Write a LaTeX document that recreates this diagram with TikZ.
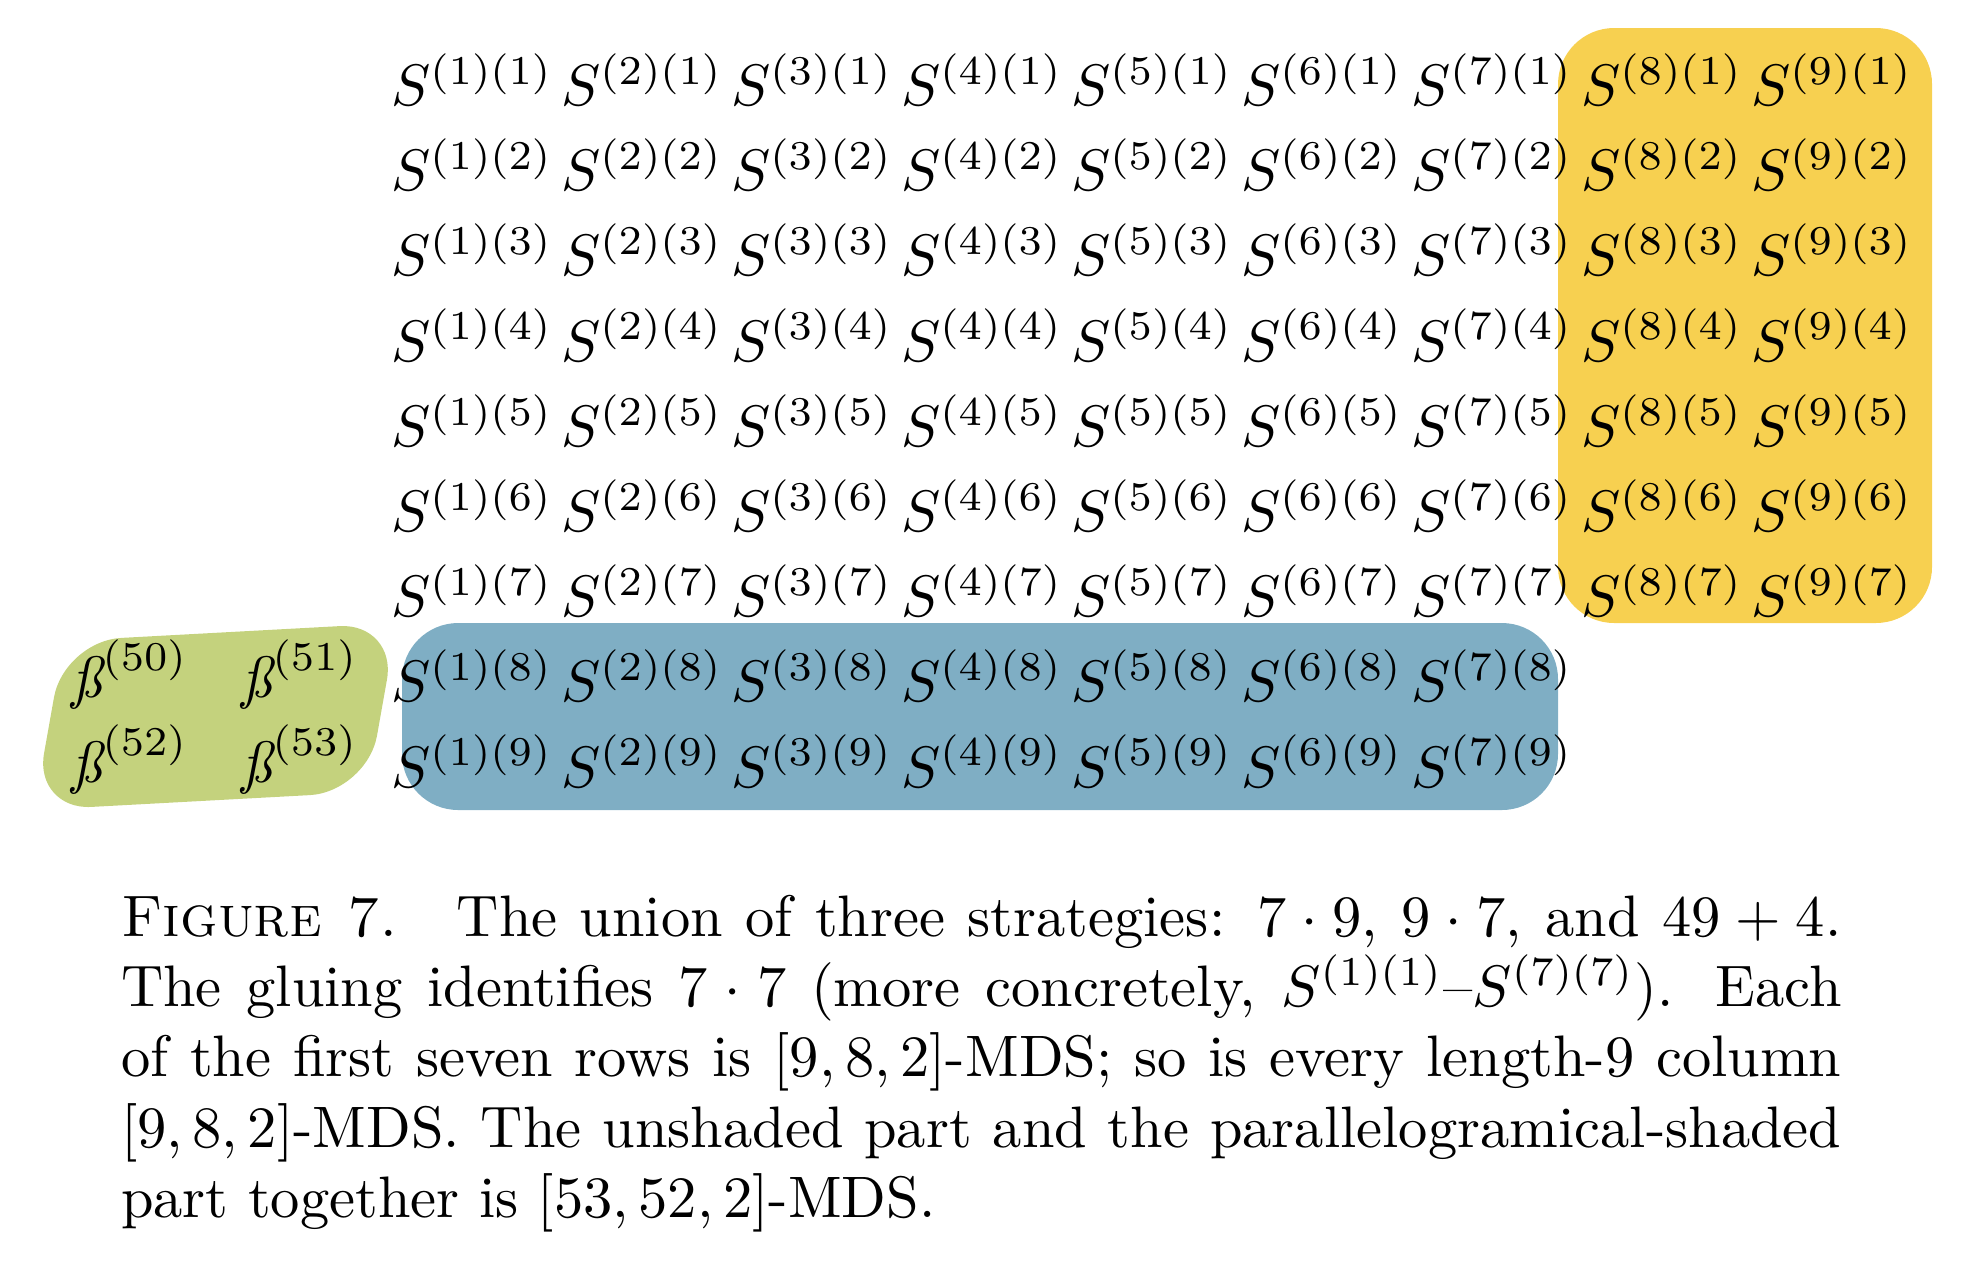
\documentclass[tikz,border=0pt]{standalone}
\definecolor{stratyellow}{RGB}{247,208,80}
\definecolor{stratblue}{RGB}{127,174,196}
\definecolor{stratgreen}{RGB}{196,210,125}
\begin{document}
\begin{tikzpicture}
[x=0.1709pt,y=-0.1709pt,
  entrydecorate/.style={anchor=base west,inner sep=0pt},
  yellowpart/.style={fill=stratyellow,rounded corners=9.6pt},
  bluepart/.style={fill=stratblue,rounded corners=9.6pt},
  greenpart/.style={fill=stratgreen,rounded corners=9.8pt}]
\useasboundingbox (0,0) rectangle (1972,1264);
%% shaded parts
\fill[yellowpart] (1558,28) rectangle (1932,623);
\fill[bluepart] (402,623) rectangle (1558,810);
\fill[greenpart] (64,641) -- (397,623) -- (367,792) -- (34,810) -- cycle;
%% first seven rows
\foreach \col in {1,...,9} {
  \foreach \row in {1,...,7} {
    \node (s\col\row) at ({390+170*(\col-1)},{105.5+85.2*(\row-1)}) [entrydecorate] {$S^{(\col)(\row)}$};
  }
}
%% last two rows
\foreach \col in {1,...,7} {
  \foreach \row in {8,9} {
    \node (s\col\row) at ({390+170*(\col-1)},{105.5+85.2*(\row-1)}) [entrydecorate] {$S^{(\col)(\row)}$};
  }
}
%% parallelogram part
\foreach \nodename/\x/\y in {50/70/697, 51/240/697, 52/70/782, 53/240/782} {
  \node (b\nodename) at (\x,\y) [entrydecorate] {$\textit{\ss}^{(\nodename)}$};
}
%% caption
\node (caption) at (120,894) [anchor=north west,text width=294pt,align=justify,inner sep=0pt]
  {\textsc{Figure 7.}\quad The union of three strategies: $7\cdot 9$, $9\cdot 7$, and $49+4$.\linebreak
  The gluing identifies $7\cdot 7$ (more concretely, $S^{(1)(1)}$--$S^{(7)(7)}$). Each\linebreak
  of the first seven rows is $[9,8,2]$-MDS; so is every length-9 column\linebreak
  $[9,8,2]$-MDS. The unshaded part and the parallelogramical-shaded\linebreak
  part together is $[53,52,2]$-MDS.};
\end{tikzpicture}
\end{document}
